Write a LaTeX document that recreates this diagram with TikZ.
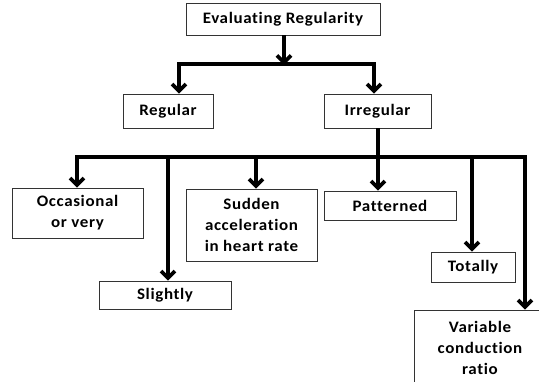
\documentclass[tikz,border=0pt]{standalone}
\usepackage{fontspec}
\setmainfont{Carlito}[FakeStretch=1.06,LetterSpace=4,Ligatures=NoCommon]
\usetikzlibrary{arrows.meta}
\begin{document}
\begin{tikzpicture}[x=1pt,y=-1pt,
  box/.style={draw=black!80,line width=0.9pt,fill=white,inner sep=0pt,align=center,
    font=\fontsize{16}{21}\selectfont\bfseries},
  bus/.style={line width=3.6pt},
  arr/.style={line width=3.6pt,-{Straight Barb[length=7pt,width=14pt]}}]
\useasboundingbox (0,0) rectangle (539,381);
\clip (0,0) rectangle (539,381);
% boxes
\node[box,minimum width=194pt,minimum height=32pt] (top) at (283,19) {Evaluating Regularity};
\node[box,minimum width=90pt,minimum height=34pt] (reg) at (168,111) {Regular};
\node[box,minimum width=107pt,minimum height=34pt] (irr) at (377.5,111) {Irregular};
\node[box,minimum width=131pt,minimum height=50pt] (occ) at (77.5,213) {Occasional\\or very};
\node[box,minimum width=132pt,minimum height=28pt] (sli) at (165,295) {Slightly};
\node[box,minimum width=131pt,minimum height=72pt] (sud) at (251.5,225) {Sudden\\acceleration\\in heart rate};
\node[box,minimum width=132pt,minimum height=29pt] (pat) at (390,205.5) {Patterned};
\node[box,minimum width=84pt,minimum height=30pt] (tot) at (473,267) {Totally};
\node[box,minimum width=132pt,minimum height=76pt,text depth=0pt] (var) at (480,348) {Variable\\conduction\\ratio};
% first level
\coordinate (t0) at (284,64);
\coordinate (tl) at (179,64);
\coordinate (tr) at (374,64);
\draw[arr] (top.south -| t0) -- ([yshift=-1pt]t0);
\draw[bus] ([xshift=-1.8pt]tl) -- ([xshift=1.8pt]tr);
\draw[arr] (tl) -- (reg.north -| tl);
\draw[arr] (tr) -- (irr.north -| tr);
% second level
\coordinate (b0) at (378,157);
\coordinate (bl) at (77,157);
\coordinate (br) at (525,157);
\coordinate (bs) at (168,157);
\coordinate (bu) at (256,157);
\coordinate (bt) at (472,157);
\draw[bus] (irr.south -| b0) -- (b0);
\draw[bus] ([xshift=-1.8pt]bl) -- ([xshift=1.8pt]br);
\draw[arr] (bl) -- (occ.north -| bl);
\draw[arr] (bs) -- (sli.north -| bs);
\draw[arr] (bu) -- (sud.north -| bu);
\draw[arr] (b0) -- (pat.north -| b0);
\draw[arr] (bt) -- (tot.north -| bt);
\draw[arr] (br) -- (var.north -| br);
\end{tikzpicture}
\end{document}
